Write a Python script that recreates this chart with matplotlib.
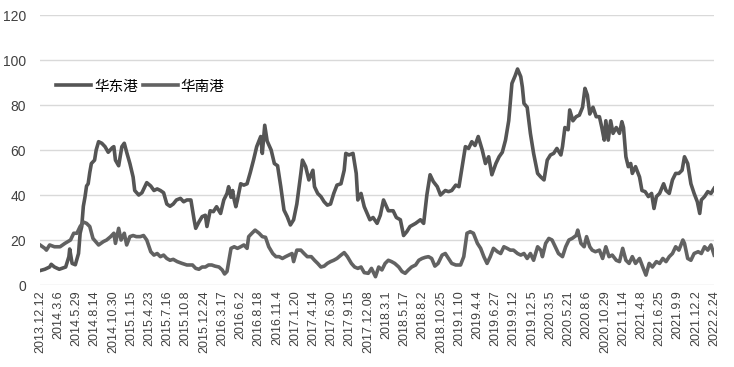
import numpy as np
import matplotlib
matplotlib.use('Agg')
from matplotlib import pyplot as plt

# x positions are along the category axis (0 = 2013.12.12, 420 = 2022.2.24)
pos_a = [0, 3, 6, 7, 9, 12, 16, 18, 18.5, 20, 22, 24, 25, 26, 27, 28, 29, 30, 31, 32,
         34, 35, 36.5, 38.5, 40.5, 42.5, 45, 46, 47, 49, 51, 52.5, 54, 56, 58, 59, 61.5, 63.5,
         65.5, 66.5, 69, 71, 73, 75, 77, 79, 81, 83, 85, 87.5, 89.5, 91.5, 94, 96, 97, 99,
         101, 103, 104, 106, 108, 110, 112.5, 114.5, 116.5, 117.5, 119, 120, 121, 122, 123,
         125, 127, 129, 131, 133, 135, 137.5, 138.5, 140, 141.5, 144, 146, 148, 150, 152,
         154, 156, 158, 160, 162.5, 163.5, 165.5, 167.5, 170, 171, 173, 175, 177, 179, 181,
         183, 185, 187.5, 189.5, 190.5, 192.5, 195, 197, 198, 200, 202, 205.5, 207.5, 210,
         212, 214, 217, 220, 222, 224.5, 226.5, 228.5, 230.5, 234, 237, 239, 241, 243, 245,
         247.5, 249.5, 252.5, 254.5, 256.5, 259, 261, 263, 265, 267, 269, 271, 273, 275.5,
         277.5, 279.5, 281.5, 284, 286, 288, 290, 292, 294, 296, 297.5, 299.5, 300.5, 301.5,
         303.5, 305.5, 307.5, 310, 312, 314, 316, 318, 320, 322, 324.5, 325.5, 327, 329, 330,
         332, 334, 336, 338, 339.5, 341, 342.5, 344.5, 346.5, 348.5, 350, 351.5, 352.5, 354,
         355.5, 357, 359, 361, 362.5, 363.5, 365, 366.5, 368, 369, 371, 373.5, 375, 377, 379,
         381, 382.5, 384, 386, 388.5, 390, 392, 394, 396, 398, 400, 401.5, 403.5, 405.5,
         407.5, 409.5, 411, 412, 414, 416, 418, 420]
val_a = [6.4, 7, 8, 9.2, 8, 7, 8, 12.6, 16, 9.6, 9, 14, 23, 26, 35, 39, 44, 45, 50, 54,
         55.5, 60, 63.7, 63, 61.5, 59, 61, 61.5, 55.5, 53, 61.5, 63, 59, 54, 48, 42, 40, 41,
         44, 45.5, 44, 42, 42.7, 42, 41, 36, 35, 36, 37.8, 38.5, 37, 37.8, 37.8, 29, 25.2, 28,
         30.4, 31, 26, 33, 32.6, 34.8, 31.8, 37.8, 40.7, 43.7, 39, 42, 37.8, 34.8, 37.8,
         45, 44.4, 45, 50, 55.5, 61.5, 66, 58.5, 71, 64, 60, 54, 53, 43.7, 33.3,
         30.4, 26.7, 29, 36, 49.6, 55.5, 52.6, 46.7, 51, 43.7, 40.7, 39.3, 37, 35.5, 36,
         40.7, 44.4, 45, 51, 58.5, 57.8, 58.5, 49.6, 37.8, 40.7, 34.8, 29, 30, 27.4,
         31, 37.8, 33, 33, 30, 29, 22, 23.7, 26, 27.4, 29, 27.4, 40, 49, 46,
         43.7, 40, 42, 41.5, 42, 44.4, 43.7, 52.6, 61.5, 60.7, 63.7, 62, 66, 60,
         54, 57, 49, 54, 57, 59, 64.4, 73, 89.6, 93, 96, 92.6, 88, 80.7,
         79, 67.4, 58.5, 49.6, 48, 46.7, 55.5, 57.8, 58.5, 60.7, 57.8, 61.5, 70, 69, 77.8,
         73, 74.8, 75.5, 79, 87.4, 84.4, 76, 79, 74.8, 74.8, 70, 64.4, 73, 64.4,
         73, 67.4, 70, 67.4, 72.6, 70, 57, 52.6, 54, 49.6, 52.6, 48, 42, 41.5, 39.3,
         40.7, 34, 39.3, 40.7, 45, 42, 40.7, 46.7, 49.6, 49.6, 51, 57, 54, 45,
         40.7, 37, 31.8, 37.8, 39.3, 41.5, 40.7, 43]

pos_b = [0, 3, 4, 6, 9, 12.5, 15.5, 19, 21, 23, 25, 27, 29, 31, 33, 36.5, 39.5, 41.5, 44,
         46, 47, 49, 50.5, 52.5, 54, 56, 58, 60, 62.5, 64.5, 66.5, 69, 71, 73, 75, 77, 79,
         81, 83, 85.5, 88.5, 91.5, 95, 97, 99, 101, 103, 105, 107, 109, 111.5, 113.5, 115,
         116.5, 119, 121, 123, 125, 127, 129, 130, 132, 134, 136.5, 138.5, 140.5, 142.5, 145,
         147, 149, 151, 153, 155, 157, 158, 160, 162.5, 164.5, 166.5, 169, 171, 173, 175,
         177, 179, 181, 183, 185, 187.5, 189.5, 191.5, 194, 196, 198, 200, 202, 204.5,
         206.5, 209, 211, 213, 215, 217, 219, 221, 223.5, 225.5, 227.5, 229.5, 231.5, 234,
         236, 238, 240, 242, 244, 246, 248, 250.5, 252.5, 254.5, 256.5, 259, 262, 264, 266,
         268, 270, 272.5, 274.5, 276.5, 278.5, 280.5, 282.5, 285, 287, 289, 291, 293, 295,
         297.5, 299.5, 301.5, 303.5, 305.5, 307.5, 310, 312, 313, 315, 317, 319, 321, 323,
         325.5, 327.5, 329.5, 331.5, 334, 335, 337, 339, 340.5, 342.5, 344, 346, 348.5,
         350.5, 352.5, 354.5, 356.5, 359, 361, 363, 365, 367, 369, 371, 373.5, 375.5, 377.5,
         379.5, 381.5, 384, 386, 388, 390, 392, 394, 396, 398, 400.5, 401.5, 403.5, 405.5,
         407.5, 410, 412, 414, 416, 418, 420]
val_b = [17.8, 16.3, 15.5, 17.8, 17, 17, 18.5, 20, 23, 23, 26, 28, 27.4, 26, 20.7, 17.8,
         19.3, 20, 21.5, 23, 18.5, 25.2, 20, 23, 17.8, 21.5, 22, 21.5, 21.5, 22, 20, 14.8,
         13.3, 14, 12.6, 13.3, 11.8, 11, 11.4, 10.4, 9.6, 8.9, 8.9, 7.4, 7, 8, 8, 8.9, 8.9,
         8.4, 8, 6.7, 4.9, 6, 16.3, 17, 16.3, 17, 17.8, 16.3, 21.5, 23, 24.4, 23, 21.5, 21.2,
         17, 14, 12.6, 12.6, 11.8, 12.6, 13.3, 14, 10.4, 15.5, 15.5, 14, 12.6, 12.6, 11,
         9.6, 8, 8.4, 9.6, 10.4, 11, 11.8, 13.3, 14.4, 12.6, 9.6, 8, 7.4, 8, 5.5, 5.2,
         7.4, 3.7, 8, 6.7, 9.6, 11, 10.4, 9.6, 8, 6, 5.2, 6.7, 8, 8.9, 11, 11.8, 12.3,
         12.6, 11.8, 8.4, 9.6, 13.3, 14, 11.8, 9.6, 8.9, 8.9, 12.6, 23, 23.7, 23, 18.5,
         16.3, 12.6, 9.6, 12.6, 16.3, 14.8, 14, 17, 16.3, 15.5, 15.5, 14, 13.3, 14, 11.8,
         14, 11, 17, 15.5, 12.6, 18.5, 20.7, 20, 17, 14, 12.6, 17, 20, 20.7, 22, 24.4,
         18.5, 17, 21.5, 17, 15.5, 14.8, 15.5, 11.8, 17, 12.6, 13.3, 11, 10.4, 16.3, 11,
         9.6, 12.6, 9.6, 11.8, 8, 4.4, 9.6, 8, 10.4, 9.6, 11.8, 10.4, 12.6, 14, 17,
         15.5, 20, 18.5, 11.8, 11, 14, 14.8, 14, 17, 15.5, 17.8, 13.3]

tick_labels = ['2013.12.12', '2014.3.6', '2014.5.29', '2014.8.14', '2014.10.30', '2015.1.15',
               '2015.4.23', '2015.7.16', '2015.10.8', '2015.12.24', '2016.3.17', '2016.6.2',
               '2016.8.18', '2016.11.4', '2017.1.20', '2017.4.14', '2017.6.30', '2017.9.15',
               '2017.12.08', '2018.3.1', '2018.5.17', '2018.8.2', '2018.10.25', '2019.1.10',
               '2019.4.4', '2019.6.27', '2019.9.12', '2019.12.5', '2020.3.5', '2020.5.21',
               '2020.8.6', '2020.10.29', '2021.1.14', '2021.4.8', '2021.6.25', '2021.9.9',
               '2021.12.2', '2022.2.24']

names = ['华东港', '华南港']

plt.rcParams['font.family'] = ['Liberation Sans', 'DejaVu Sans']

fig = plt.figure(figsize=(7.34, 3.67), dpi=100)
ax = fig.add_axes([0.0545, 0.2234, 0.9185, 0.7357])

ax.plot(pos_a, val_a, color='#555555', linewidth=2.6, label=names[0],
        solid_joinstyle='round')
ax.plot(pos_b, val_b, color='#626262', linewidth=2.6, label=names[1],
        solid_joinstyle='round')

ax.set_ylim(0, 120)
ax.set_yticks(np.arange(0, 121, 20))
ax.set_xlim(0, 420)
ax.set_xticks(np.linspace(0, 420, len(tick_labels)))
ax.set_xticklabels(tick_labels, rotation=90, fontsize=9, color='#404040')
ax.tick_params(axis='y', labelsize=10, colors='#404040', length=0, pad=10)
ax.tick_params(axis='x', length=0, pad=4)
ax.grid(axis='y', color='#d9d9d9', linewidth=1)
ax.set_axisbelow(True)
for sp in ax.spines.values():
    sp.set_visible(False)

leg = ax.legend(loc='center left', bbox_to_anchor=(0.005, 0.735), ncol=2, frameon=False,
                handlelength=2.4, columnspacing=0.3, handletextpad=0.2,
                prop={'family': ['Noto Sans CJK SC'], 'size': 10.5})

fig.savefig('out.png', dpi=100)
